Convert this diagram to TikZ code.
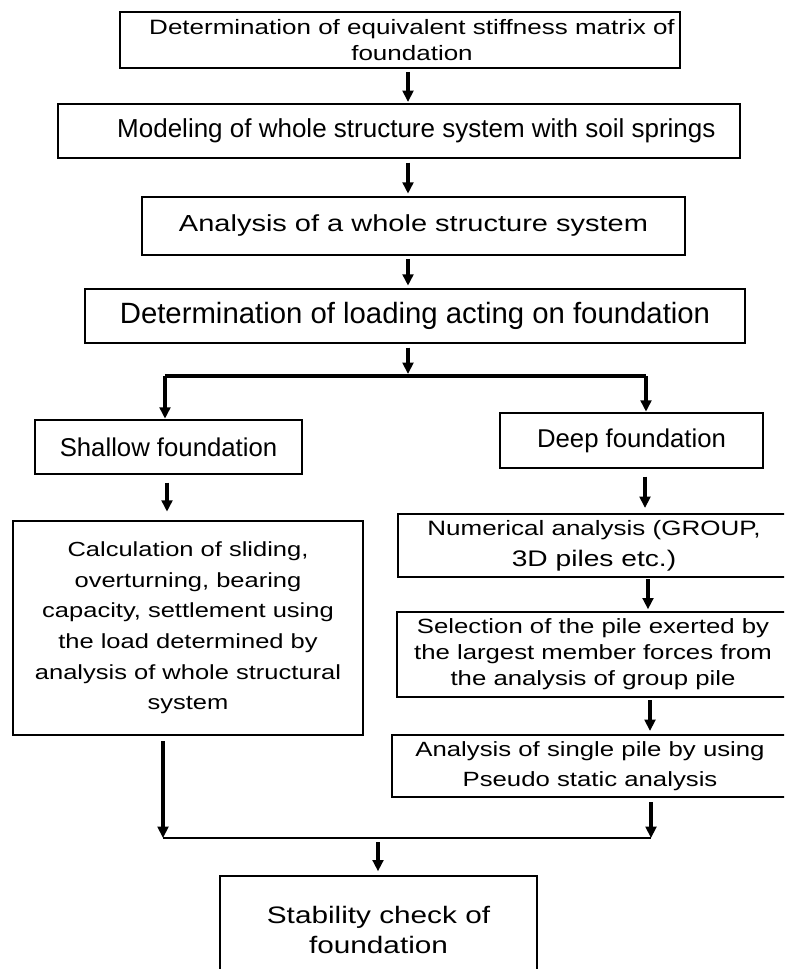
\documentclass[tikz,border=0pt]{standalone}
\usepackage{fontspec}
\setmainfont{Liberation Sans}
\newfontfamily\widef[FakeStretch=1.25]{Liberation Sans}
\newfontfamily\narf{Liberation Sans}
\usetikzlibrary{arrows.meta}
\newcommand\fsz[2]{\fontsize{#1}{#2}\selectfont}
\begin{document}
\begin{tikzpicture}[x=0.75pt,y=-0.75pt,
  box/.style={draw, line width=1pt, inner sep=0pt, align=center},
  arr/.style={line width=2.6pt, -{Triangle[width=8pt,length=8.5pt]}},
  bar/.style={line width=2.8pt}]
\useasboundingbox (0,0) rectangle (784,969);
\clip (0,0) rectangle (784,969);
\fill[white] (0,0) rectangle (784,969);

% main column
\node[box, minimum width=420pt, minimum height=42pt, font=\widef\fsz{15.6}{19.5}] (b1) at (400,40)
  {\hspace*{18pt}Determination of equivalent stiffness matrix of\\\hspace*{18pt}foundation};
\node[box, minimum width=511.5pt, minimum height=40.5pt, font=\narf\fsz{19.5}{22}] (b2) at (399,131)
  {\hspace*{26pt}Modeling of whole structure system with soil springs};
\node[box, minimum width=407.25pt, minimum height=43.5pt, font=\widef\fsz{17.4}{21}] (b3) at (413.5,226)
  {Analysis of a whole structure system};
\node[box, minimum width=495pt, minimum height=40.5pt, font=\narf\fsz{22}{24}] (b4) at (415,316)
  {Determination of loading acting on foundation};

% branches
\node[box, minimum width=200.25pt, minimum height=40.5pt, font=\narf\fsz{19.3}{22}] (sh) at (168.5,447)
  {Shallow foundation};
\node[box, minimum width=197.25pt, minimum height=41.25pt, font=\narf\fsz{19.3}{22}] (dp) at (631.5,440.5)
  {Deep foundation};
\node[box, minimum width=262.5pt, minimum height=160.5pt, font=\widef\fsz{15.3}{23}] (calc) at (188,628)
  {Calculation of sliding,\\overturning, bearing\\capacity, settlement using\\the load determined by\\analysis of whole structural\\system};
\node[box, minimum width=294pt, minimum height=47.25pt, font=\widef\fsz{15.6}{23.25}] (num) at (594,545.5)
  {Numerical analysis (GROUP,\\{\fsz{16.9}{23.25}3D piles etc.)}};
\node[box, minimum width=294pt, minimum height=63.75pt, font=\widef\fsz{15.45}{19.5}] (sel) at (593,654.5)
  {Selection of the pile exerted by\\the largest member forces from\\the analysis of group pile};
\node[box, minimum width=297pt, minimum height=46.5pt, font=\widef\fsz{15.45}{22.5}] (an) at (590,766)
  {Analysis of single pile by using\\Pseudo static analysis};
\node[box, minimum width=237.75pt, minimum height=81pt, font=\widef\fsz{17.85}{22.5}] (st) at (378.5,930)
  {Stability check of\\foundation};

% helper coordinates
\coordinate (c1) at (408,0);
\coordinate (jL) at (165,376);
\coordinate (jR) at (646,376);
\coordinate (cL) at (167,0);
\coordinate (cR1) at (645,0);
\coordinate (cR2) at (648,0);
\coordinate (cR3) at (650,0);
\coordinate (kL) at (163,838);
\coordinate (kR) at (651,838);
\coordinate (c2) at (378,0);

% top chain
\draw[arr, shorten <=2.5pt, shorten >=1pt] (b1.south -| c1) -- (b2.north -| c1);
\draw[arr, shorten <=3pt, shorten >=2pt] (b2.south -| c1) -- (b3.north -| c1);
\draw[arr, shorten <=2.5pt, shorten >=2pt] (b3.south -| c1) -- (b4.north -| c1);
\draw[arr, shorten <=3pt, shorten >=1.5pt] (b4.south -| c1) -- (c1 |- jL);
\draw[bar] (jL) -- (jR);
\draw[arr, shorten >=0.5pt] (jL) -- (jL |- sh.north);
\draw[arr, shorten >=0.5pt] (jR) -- (jR |- dp.north);

% left column
\draw[arr, shorten <=6pt, shorten >=6.5pt] (sh.south -| cL) -- (calc.north -| cL);
\draw[arr, shorten <=4pt] (calc.south -| kL) -- (kL);

% right column
\draw[arr, shorten <=6pt, shorten >=4pt] (dp.south -| cR1) -- (num.north -| cR1);
\draw[arr, shorten <=1pt, shorten >=1.5pt] (num.south -| cR2) -- (sel.north -| cR2);
\draw[arr, shorten <=2pt, shorten >=2.5pt] (sel.south -| cR3) -- (an.north -| cR3);
\draw[arr, shorten <=3.5pt] (an.south -| kR) -- (kR);

% bottom join
\draw[bar, line width=2.2pt] (kL) -- (kR);
\draw[arr, shorten <=3pt, shorten >=3pt] (c2 |- kL) -- (st.north -| c2);
\end{tikzpicture}
\end{document}
